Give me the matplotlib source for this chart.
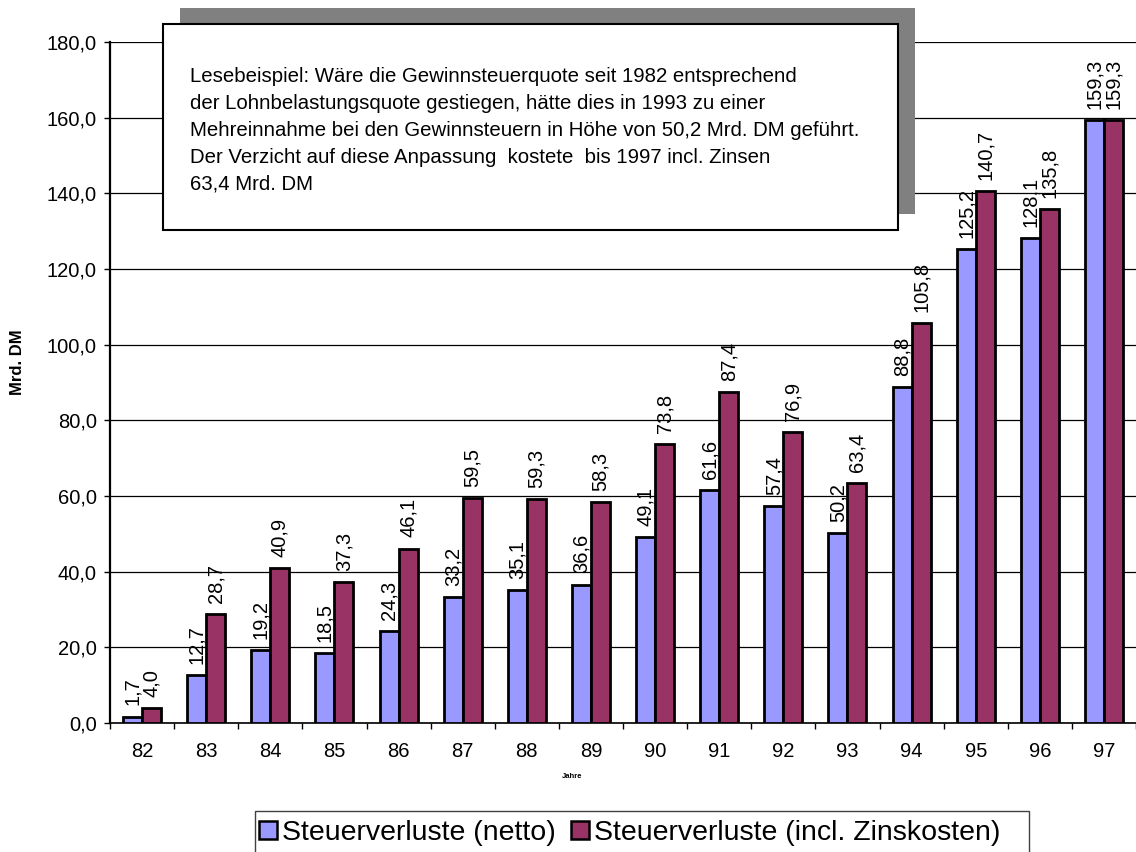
import numpy as np
import matplotlib
matplotlib.use("Agg")
import matplotlib.pyplot as plt
from matplotlib.patches import Rectangle, Patch

plt.rcParams["font.family"] = ["Liberation Sans", "DejaVu Sans"]

# ---- data -------------------------------------------------------------
years = ["82", "83", "84", "85", "86", "87", "88", "89",
         "90", "91", "92", "93", "94", "95", "96", "97"]
netto = [1.7, 12.7, 19.2, 18.5, 24.3, 33.2, 35.1, 36.6,
         49.1, 61.6, 57.4, 50.2, 88.8, 125.2, 128.1, 159.3]
zins = [4.0, 28.7, 40.9, 37.3, 46.1, 59.5, 59.3, 58.3,
        73.8, 87.4, 76.9, 63.4, 105.8, 140.7, 135.8, 159.3]
series_names = ["Steuerverluste (netto)", "Steuerverluste (incl. Zinskosten)"]
yticks = [0, 20, 40, 60, 80, 100, 120, 140, 160, 180]
note_lines = [
    "Lesebeispiel: Wäre die Gewinnsteuerquote seit 1982 entsprechend",
    "der Lohnbelastungsquote gestiegen, hätte dies in 1993 zu einer",
    "Mehreinnahme bei den Gewinnsteuern in Höhe von 50,2 Mrd. DM geführt.",
    "Der Verzicht auf diese Anpassung  kostete  bis 1997 incl. Zinsen",
    "63,4 Mrd. DM",
]

# ---- layout helpers (pixel -> figure fraction) -------------------------
W, H = 1136, 852
def fx(px):
    return px / W
def fy(py):
    return 1 - py / H

def de(v):
    return f"{v:.1f}".replace(".", ",")

fig = plt.figure(figsize=(W / 100, H / 100), dpi=100)
ax = fig.add_axes([fx(110), fy(723), fx(1136) - fx(110), fy(42) - fy(723)])

c_netto = "#9999FF"
c_zins = "#993366"
w = 0.296
x = np.arange(len(years))

b1 = ax.bar(x - w / 2, netto, w, color=c_netto, edgecolor="black", linewidth=2.0, zorder=3)
b2 = ax.bar(x + w / 2, zins, w, color=c_zins, edgecolor="black", linewidth=2.0, zorder=3)

ax.bar_label(b1, labels=[de(v) for v in netto], rotation=90, padding=8, fontsize=14.5)
ax.bar_label(b2, labels=[de(v) for v in zins], rotation=90, padding=8, fontsize=14.5)

ax.set_xlim(-0.5, len(years) - 0.5)
ax.set_ylim(0, 180)

ax.set_yticks(yticks)
ax.set_yticklabels([de(v) for v in yticks], fontsize=14.5)
ax.tick_params(axis="y", direction="out", length=4.5, width=1, pad=5)

ax.set_xticks(x)
ax.set_xticklabels(years, fontsize=14.5)
ax.set_xticks(np.arange(-0.5, len(years), 1), minor=True)
ax.tick_params(axis="x", which="major", length=0, pad=14)
ax.tick_params(axis="x", which="minor", direction="out", length=4.5, width=1)

ax.yaxis.grid(True, color="black", linewidth=0.9, zorder=0)
ax.set_axisbelow(True)
for s in ("top", "right"):
    ax.spines[s].set_visible(False)
ax.spines["left"].set_linewidth(1.6)
ax.spines["bottom"].set_linewidth(1.2)

fig.text(fx(18), fy(362), "Mrd. DM", rotation=90, fontsize=12, fontweight="bold",
         ha="center", va="center")
fig.text(fx(572), fy(776), "Jahre", fontsize=5.5, fontweight="bold",
         ha="center", va="center")

# ---- annotation box with drop shadow -----------------------------------
shadow = Rectangle((fx(180), fy(214)), fx(915) - fx(180), fy(8) - fy(214),
                   transform=fig.transFigure, facecolor="#808080", edgecolor="none", zorder=10)
box = Rectangle((fx(163), fy(230)), fx(898) - fx(163), fy(24) - fy(230),
                transform=fig.transFigure, facecolor="white", edgecolor="black",
                linewidth=1.5, zorder=11)
fig.patches.extend([shadow, box])
for i, line in enumerate(note_lines):
    fig.text(fx(190), fy(82 + 27 * i), line, fontsize=14.7, ha="left", va="baseline", zorder=12)

# ---- legend --------------------------------------------------------------
legend_frame = Rectangle((fx(255), fy(880)), fx(1029) - fx(255), fy(811) - fy(880),
                         transform=fig.transFigure, facecolor="white", edgecolor="#404040",
                         linewidth=1.0, zorder=10)
fig.patches.append(legend_frame)
handles = [Patch(facecolor=c_netto, edgecolor="black", linewidth=1.8),
           Patch(facecolor=c_zins, edgecolor="black", linewidth=1.8)]
leg = fig.legend(handles, series_names, loc="center left",
                 bbox_to_anchor=(fx(259), fy(833)), ncol=2, frameon=False, fontsize=20.5,
                 handlelength=0.62, handleheight=0.62, handletextpad=0.18,
                 columnspacing=0.55, borderpad=0, borderaxespad=0)
leg.set_zorder(12)

fig.savefig("out.png", dpi=100)
